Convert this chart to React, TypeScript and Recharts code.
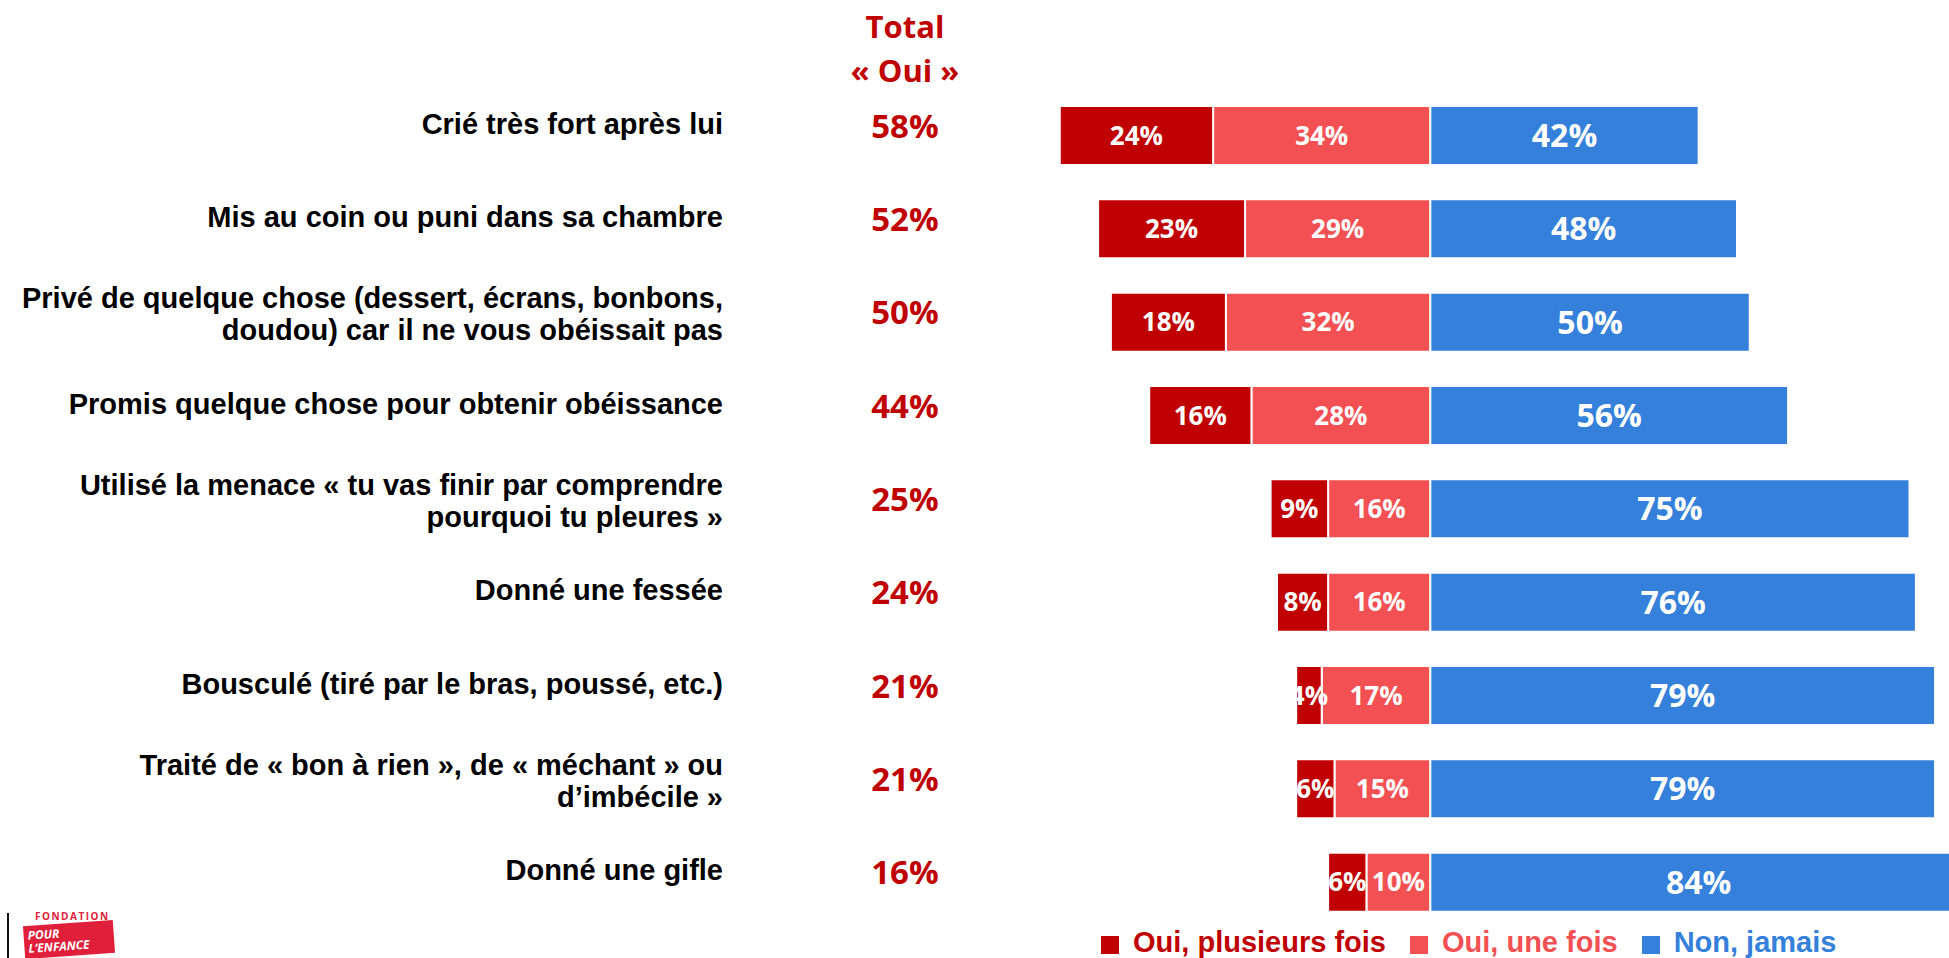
import React from 'react'
import { BarChart, Bar, XAxis, YAxis, LabelList } from 'recharts'

const categories = [
  'Crié très fort après lui',
  'Mis au coin ou puni dans sa chambre',
  'Privé de quelque chose (dessert, écrans, bonbons,\ndoudou) car il ne vous obéissait pas',
  'Promis quelque chose pour obtenir obéissance',
  'Utilisé la menace « tu vas finir par comprendre\npourquoi tu pleures »',
  'Donné une fessée',
  'Bousculé (tiré par le bras, poussé, etc.)',
  'Traité de « bon à rien », de « méchant » ou\nd’imbécile »',
  'Donné une gifle',
]
const totalOui = [58, 52, 50, 44, 25, 24, 21, 21, 16]
const plusieursFois = [24, 23, 18, 16, 9, 8, 4, 6, 6]
const uneFois = [34, 29, 32, 28, 16, 16, 17, 15, 10]
const jamais = [42, 48, 50, 56, 75, 76, 79, 79, 84]

const DARK = '#C00000'
const LIGHT = '#F25052'
const BLUE = '#3580DB'

const LABEL_FONT = '"Liberation Sans", Arial, sans-serif'
const NUM_FONT = '"Open Sans", sans-serif'

// negative side stacks outward from zero: "une fois" first, then "plusieurs fois"
const data = categories.map((label, i) => ({
  label,
  une: -uneFois[i],
  plusieurs: -plusieursFois[i],
  jamais: jamais[i],
}))

const legendItems = [
  { name: 'Oui, plusieurs fois', color: DARK },
  { name: 'Oui, une fois', color: LIGHT },
  { name: 'Non, jamais', color: BLUE },
]

function CategoryTick(props: any) {
  const { y, payload } = props
  const lines = String(payload.value).split('\n')
  const i = payload.index
  return (
    <g>
      <text
        textAnchor="end"
        fontFamily={LABEL_FONT}
        fontWeight="bold"
        fontSize={29}
        fill="#000"
      >
        {lines.length === 1 ? (
          <tspan x={723} y={y - 2}>{lines[0]}</tspan>
        ) : (
          lines.map((l, k) => (
            <tspan key={k} x={723} y={y - 14 + k * 32}>{l}</tspan>
          ))
        )}
      </text>
      <text
        x={905}
        y={y + 2}
        textAnchor="middle"
        fontFamily={NUM_FONT}
        fontWeight="bold"
        fontSize={33}
        fill={DARK}
      >
        {totalOui[i]}%
      </text>
    </g>
  )
}

const pct = (v: any) => `${Math.abs(Number(v))}%`

const redLabel = {
  fill: '#fff',
  fontFamily: NUM_FONT,
  fontWeight: 'bold' as const,
  fontSize: 26,
}
const blueLabel = { ...redLabel, fontSize: 32 }

export default function App() {
  return (
    <div style={{ position: 'relative', width: 1949, height: 958, overflow: 'hidden', background: '#fff' }}>
      <style>{`body{margin:0;overflow:hidden}`}</style>
      <div style={{ position: 'absolute', left: 805, top: 4, width: 200, textAlign: 'center', color: DARK, fontFamily: NUM_FONT, fontWeight: 'bold', fontSize: 31, lineHeight: '44px' }}>
        <div>Total</div>
        <div>« Oui »</div>
      </div>
      <BarChart
        width={2000}
        height={958}
        data={data}
        layout="vertical"
        stackOffset="sign"
        margin={{ top: 89, right: 33, bottom: 29, left: 0 }}
        barSize={59}
      >
        <XAxis type="number" domain={[-60, 84]} hide />
        <YAxis
          type="category"
          dataKey="label"
          width={1047}
          axisLine={false}
          tickLine={false}
          interval={0}
          tick={CategoryTick}
        />
        <Bar dataKey="une" stackId="a" fill={LIGHT} stroke="#fff" strokeWidth={2} isAnimationActive={false}>
          <LabelList dataKey="une" position="center" formatter={pct} style={redLabel} />
        </Bar>
        <Bar dataKey="plusieurs" stackId="a" fill={DARK} stroke="#fff" strokeWidth={2} isAnimationActive={false}>
          <LabelList dataKey="plusieurs" position="center" formatter={pct} style={redLabel} />
        </Bar>
        <Bar dataKey="jamais" stackId="a" fill={BLUE} stroke="#fff" strokeWidth={2} isAnimationActive={false}>
          <LabelList dataKey="jamais" position="center" formatter={pct} style={blueLabel} />
        </Bar>
      </BarChart>
      {/* legend */}
      <div style={{ position: 'absolute', left: 1101, top: 928, display: 'flex', alignItems: 'flex-end', fontFamily: LABEL_FONT, fontWeight: 'bold', fontSize: 29, lineHeight: '29px' }}>
        {legendItems.map((it) => (
          <div key={it.name} style={{ display: 'flex', alignItems: 'flex-end', marginRight: 24 }}>
            <div style={{ width: 18, height: 18, background: it.color, marginRight: 14, marginBottom: 3 }} />
            <span style={{ color: it.color, whiteSpace: 'nowrap' }}>{it.name}</span>
          </div>
        ))}
      </div>
      {/* logo */}
      <div style={{ position: 'absolute', left: 7, top: 913, width: 2, height: 45, background: '#111' }} />
      <div style={{ position: 'absolute', left: 35, top: 910, fontFamily: NUM_FONT, fontWeight: 'bold', fontSize: 10, lineHeight: '12px', letterSpacing: 1.5, color: '#E0203A' }}>
        FONDATION
      </div>
      <div style={{ position: 'absolute', left: 24, top: 923, width: 90, height: 33, background: '#E0203A', transform: 'rotate(-4deg)', color: '#fff', fontFamily: NUM_FONT, fontWeight: 'bold', fontStyle: 'italic', fontSize: 12, lineHeight: '13px', padding: '3px 4px', boxSizing: 'border-box' }}>
        <div>POUR</div>
        <div>L’ENFANCE</div>
      </div>
    </div>
  )
}
